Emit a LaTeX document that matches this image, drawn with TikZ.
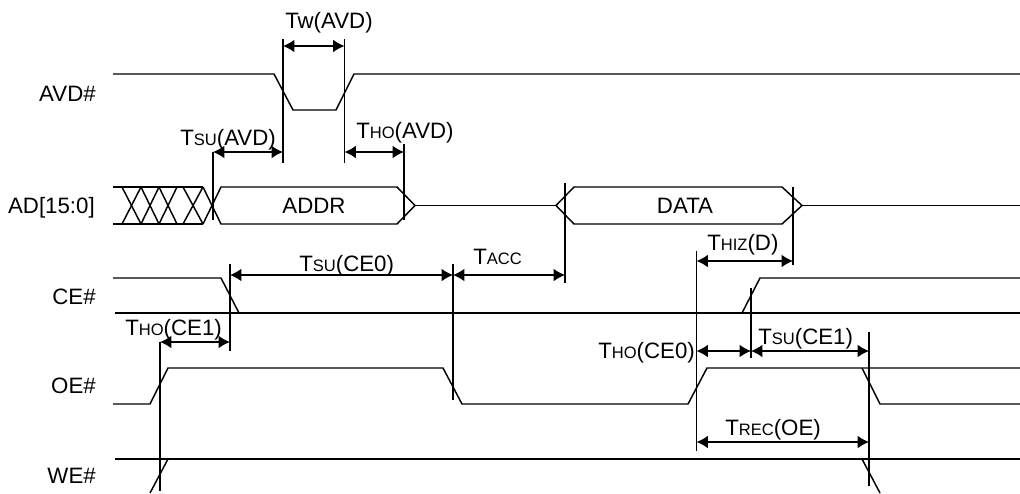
\documentclass[tikz,border=0pt]{standalone}
\usepackage{fontspec}
\setmainfont{Liberation Sans}
\usetikzlibrary{arrows.meta}
\newcommand{\timing}[2]{T{\fontsize{12.4}{13}\selectfont #1}#2}
\tikzset{
	sigline/.style={line width=1.1pt,line join=miter},
	tickline/.style={line width=1.1pt},
	span/.style={line width=1.1pt,{Latex[length=8.5pt,width=9.5pt]}-{Latex[length=8.5pt,width=9.5pt]}},
	sigline name/.style={anchor=base east,inner sep=0pt,font=\fontsize{16.7}{17}\selectfont},
	tlabel/.style={anchor=base west,inner sep=0pt,font=\fontsize{16.7}{17}\selectfont}
}
\begin{document}
\begin{tikzpicture}[x=0.75pt,y=-0.75pt]
	\useasboundingbox (0,0) rectangle (1020,493);
	% signals
	\draw [sigline] (113,74)-- (274,74)-- (293,110)-- (336,110)-- (354,74)-- (1020,74);
	\draw [sigline] (113,187)-- (203,187);
	\draw [sigline] (113,224)-- (203,224);
	\draw [sigline] (122,187)-- (141,224);
	\draw [sigline] (141,187)-- (122,224);
	\draw [sigline] (141,187)-- (159,224);
	\draw [sigline] (159,187)-- (141,224);
	\draw [sigline] (159,187)-- (177,224);
	\draw [sigline] (177,187)-- (159,224);
	\draw [sigline] (183,187)-- (203,224);
	\draw [sigline] (203,187)-- (183,224);
	\draw [sigline] (203,187)-- (221,224)-- (397,224)-- (415,205.5)-- (397,187)-- (221,187)-- (203,224);
	\draw [sigline] (415,205.5)-- (556,205.5);
	\draw [sigline] (574,187)-- (556,205.5)-- (574,224)-- (782,224)-- (802,205.5)-- (782,187)-- cycle;
	\draw [sigline] (802,205.5)-- (1020,205.5);
	\draw [sigline] (113,278)-- (221,278)-- (239,313);
	\draw [sigline,line width=1.3pt] (115,313)-- (1020,313);
	\draw [sigline] (742,313)-- (760,278)-- (1020,278);
	\draw [sigline] (113,404)-- (150,404)-- (168,368)-- (443,368)-- (462,404)-- (688,404)-- (707,368)-- (1020,368);
	\draw [sigline] (862,368)-- (880,404)-- (1020,404);
	\draw [sigline] (115,459)-- (1020,459);
	\draw [sigline] (150,493)-- (168,459);
	\draw [sigline] (862,459)-- (880,493);
	% ticks
	\draw [tickline] (283,39)-- (283,163);
	\draw [tickline] (344.5,39)-- (344.5,163);
	\draw [tickline] (213,152)-- (213,220);
	\draw [tickline] (404,144)-- (404,220);
	\draw [tickline] (565,183)-- (565,283);
	\draw [tickline] (793,187)-- (793,265);
	\draw [tickline] (696.5,251)-- (696.5,451);
	\draw [tickline] (230,264)-- (230,351);
	\draw [tickline] (453,264)-- (453,400);
	\draw [tickline] (160,342)-- (160,491);
	\draw [tickline] (751,288)-- (751,358);
	\draw [tickline] (869,332)-- (869,486);
	% spans
	\coordinate (twL) at (283,46);
	\coordinate (twR) at (344.5,46);
	\coordinate (tsuavdL) at (213,152);
	\coordinate (tsuavdR) at (283,152);
	\coordinate (thoavdL) at (344.5,152);
	\coordinate (thoavdR) at (404,152);
	\coordinate (tsuceL) at (230,275);
	\coordinate (tsuceR) at (453,275);
	\coordinate (taccR) at (565,275);
	\coordinate (thoceL) at (160,342);
	\coordinate (thoceR) at (230,342);
	\coordinate (thizL) at (696.5,261);
	\coordinate (thizR) at (793,261);
	\coordinate (thoczL) at (696.5,351);
	\coordinate (thoczR) at (751,351);
	\coordinate (tsuczR) at (869,351);
	\coordinate (trecL) at (696.5,442);
	\coordinate (trecR) at (869,442);
	\draw [span] (twL)-- (twR);
	\draw [span] (tsuavdL)-- (tsuavdR);
	\draw [span] (thoavdL)-- (thoavdR);
	\draw [span] (tsuceL)-- (tsuceR);
	\draw [span] (tsuceR)-- (taccR);
	\draw [span] (thoceL)-- (thoceR);
	\draw [span] (thizL)-- (thizR);
	\draw [span] (thoczL)-- (thoczR);
	\draw [span] (thoczR)-- (tsuczR);
	\draw [span] (trecL)-- (trecR);
	% names
	\node [sigline name] (avdname) at (96,101) {AVD\#};
	\node [sigline name] (adname) at (95,213) {AD[15:0]};
	\node [sigline name] (cename) at (96,304) {CE\#};
	\node [sigline name] (oename) at (96,393) {OE\#};
	\node [sigline name] (wename) at (96,483) {WE\#};
	\node [tlabel,anchor=base] (addrtext) at (314,213) {ADDR};
	\node [tlabel,anchor=base] (datatext) at (685,213) {DATA};
	% labels
	\node [tlabel] (twtext) at (285,28) {Tw(AVD)};
	\node [tlabel] (tsuavdtext) at (180,145) {\timing{SU}{(AVD)}};
	\node [tlabel] (thoavdtext) at (356,138) {\timing{HO}{(AVD)}};
	\node [tlabel] (tsucetext) at (299,271) {\timing{SU}{(CE0)}};
	\node [tlabel] (tacctext) at (473,264) {\timing{ACC}{}};
	\node [tlabel] (thizetext) at (707,250) {\timing{HIZ}{(D)}};
	\node [tlabel] (thocetext) at (125,335) {\timing{HO}{(CE1)}};
	\node [tlabel] (thocztext) at (598,358) {\timing{HO}{(CE0)}};
	\node [tlabel] (tsucztext) at (758,344) {\timing{SU}{(CE1)}};
	\node [tlabel] (trectext) at (725,435) {\timing{REC}{(OE)}};
\end{tikzpicture}
\end{document}
